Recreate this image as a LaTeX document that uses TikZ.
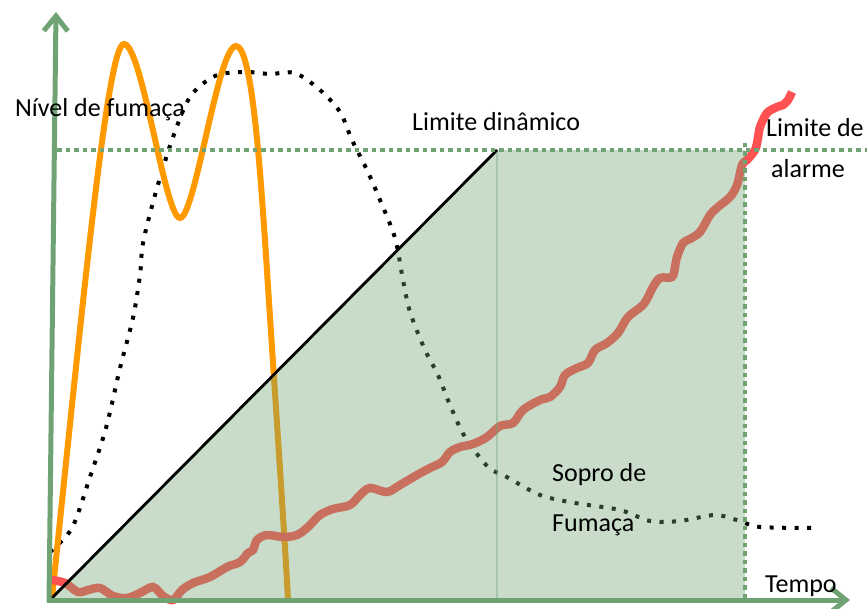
\documentclass[tikz,border=0pt]{standalone}
\usepackage{fontspec}
\setmainfont{Carlito}
\usetikzlibrary{arrows.meta}
\definecolor{axgreen}{RGB}{112,163,116}
\definecolor{orng}{RGB}{255,153,0}
\definecolor{redc}{RGB}{255,80,82}
\begin{document}
\begin{tikzpicture}[x=1pt,y=-1pt,
  lbl/.style={font=\fontsize{26}{30}\selectfont, inner sep=0pt, anchor=base west},
  axisline/.style={axgreen, line width=5, -{Straight Barb[length=15pt,width=24pt]}},
  gdots/.style={axgreen, line width=4, dash pattern=on 4.5pt off 4pt},
  kdots/.style={black, line width=4, dash pattern=on 4pt off 8.5pt},
  overlay/.style={axgreen, opacity=0.38}]
\useasboundingbox (0,0) rectangle (867,609);

% smoke puff (dotted)
\draw[kdots] plot[smooth, tension=0.5] coordinates {(50,552) (72,528) (90,477) (106,428) (120,368) (133,318) (140,275) (143,243) (155,195) (172,140) (190,97) (215,76) (245,72) (270,74) (295,73) (320,90) (340,112) (352,140) (367,170) (380,200) (395,238) (403,280) (410,312) (425,350) (438,375) (450,405) (465,437) (488,467) (505,476) (540,495) (575,503) (620,510) (650,521) (680,521) (715,515) (740,521) (760,527) (818,528)};

% orange oscillation
\draw[orng, line width=6] (52,598) .. controls (85,280) and (108,44) .. (124,44) .. controls (142,44) and (165,218) .. (180,218) .. controls (195,218) and (218,46) .. (236,46) .. controls (252,46) and (260,170) .. (265,240) .. controls (272,350) and (285,540) .. (288,600);

% red rising curve
\draw[redc, line width=8.5] plot[smooth, tension=0.55] coordinates {(52,580) (65,583) (78,592) (88,590) (100,588) (113,596) (127,598) (140,593) (153,587) (163,596) (173,600) (182,590) (193,583) (210,577) (227,567) (240,562) (248,553) (253,550) (257,540) (267,535) (283,537) (297,535) (308,527) (320,515) (333,509) (350,505) (360,495) (370,488) (387,492) (400,485) (417,475) (430,468) (442,462) (450,452) (460,447) (473,444) (487,437) (500,426) (513,423) (523,410) (540,400) (550,397) (560,387) (565,375) (577,368) (588,363) (595,350) (607,343) (618,333) (628,317) (642,306) (648,297) (653,287) (660,278) (672,277) (675,267) (677,257) (683,243) (690,239) (700,232) (710,215) (718,207) (730,197) (737,185) (742,165) (747,160) (755,150) (758,138) (760,127) (767,113) (777,107) (783,105) (788,100) (792,92)};

% dynamic limit region
\fill[overlay] (50,600) -- (497,150) -- (745,150) -- (745,600) -- cycle;
\draw[overlay, line width=1.5] (497,150) -- (497,600);
\draw[black, line width=2.8] (50,600) -- (497,150);

% alarm limit
\draw[gdots] (57,150) -- (867,150);
\draw[gdots] (745,143) -- (745,600);

% axes
\draw[axisline] (49,602) -- (56,12);
\draw[axisline] (47,600) -- (850,600);

% labels
\node[lbl] (ylab) at (15,117) {Nível de fumaça};
\node[lbl] (dyn) at (412,131) {Limite dinâmico};
\node[lbl] (al1) at (766,137) {Limite de};
\node[lbl] (al2) at (771,178) {alarme};
\node[lbl] (sp1) at (552,481) {Sopro de};
\node[lbl] (sp2) at (552,531) {Fumaça};
\node[lbl] (xlab) at (765,592) {Tempo};
\end{tikzpicture}
\end{document}
